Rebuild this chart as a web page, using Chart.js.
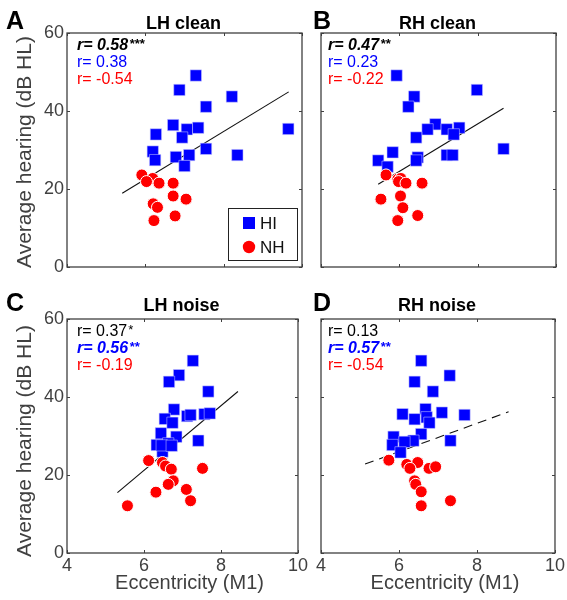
<!DOCTYPE html>
<html><head><meta charset="utf-8">
<script src="https://cdn.jsdelivr.net/npm/chart.js@4.4.0/dist/chart.umd.min.js"></script>
<style>
html,body{margin:0;padding:0;background:#fff;}
#wrap{position:relative;width:567px;height:600px;overflow:hidden;background:#fff;}
canvas{position:absolute;}
</style></head><body>
<div id="wrap">
<canvas id="cA" width="310" height="285" style="left:0;top:0"></canvas>
<canvas id="cB" width="257" height="285" style="left:310px;top:0"></canvas>
<canvas id="cC" width="310" height="315" style="left:0;top:285px"></canvas>
<canvas id="cD" width="257" height="315" style="left:310px;top:285px"></canvas>
</div>
<script>
// ---- data ----
const xTicks = [4, 6, 8, 10];
const yTicks = [0, 20, 40, 60];
const panelTitles = ['LH clean', 'RH clean', 'LH noise', 'RH noise'];
const panelLetters = ['A', 'B', 'C', 'D'];
const groupLabels = ['HI', 'NH'];
const xAxisLabel = 'Eccentricity (M1)';
const yAxisLabel = 'Average hearing (dB HL)';

const hiA_x = [7.29,6.87,8.21,7.55,6.71,6.27,7.06,7.35,6.94,9.65,6.19,6.25,6.78,7.12,7.55,7.00,8.35];
const hiA_y = [49.1,45.4,43.7,41.1,36.4,34.0,35.3,35.7,33.2,35.4,29.6,27.4,28.2,28.7,30.3,25.9,28.7];
const nhA_x = [5.91,6.19,6.03,6.35,6.71,6.71,7.04,6.20,6.31,6.76,6.22];
const nhA_y = [23.6,22.7,21.9,21.5,21.5,18.2,17.4,16.2,15.3,13.1,11.9];
const fitA_x = [5.41, 9.66];
const fitA_y = [18.9, 44.9];

const hiB_x = [5.93,7.98,6.38,6.23,6.92,6.72,7.21,7.53,7.39,6.43,8.66,5.83,5.46,5.70,6.47,6.43,7.21,7.36];
const hiB_y = [49.1,45.4,43.7,41.1,36.6,35.3,35.3,35.7,34.0,33.2,30.3,29.4,27.3,25.7,28.1,27.3,28.7,28.7];
const nhB_x = [5.66,5.96,6.04,5.98,6.17,6.58,5.53,6.03,6.09,6.47,5.96];
const nhB_y = [23.6,22.5,22.7,21.9,21.5,21.5,17.4,18.2,15.2,13.2,11.9];
const fitB_x = [5.46, 8.66];
const fitB_y = [21.2, 40.7];

const hiC_x = [7.27,6.91,6.65,7.67,6.78,6.54,6.74,7.12,7.21,7.57,7.71,6.44,6.84,6.33,6.63,6.48,7.41,6.46,6.72];
const hiC_y = [49.3,45.6,43.9,41.4,36.8,34.4,33.4,35.1,35.4,35.6,35.8,30.7,29.8,27.7,28.1,26.0,28.8,27.6,27.5];
const nhC_x = [6.12,6.48,6.56,6.71,7.52,6.76,6.63,7.10,6.31,7.21,5.57];
const nhC_y = [23.7,23.2,22.3,21.5,21.7,18.5,17.6,16.3,15.6,13.4,12.1];
const fitC_x = [5.31, 8.44];
const fitC_y = [15.5, 41.4];

const hiD_x = [6.57,7.30,6.40,6.87,6.68,6.09,6.40,7.10,7.68,6.71,6.78,6.57,5.86,6.37,6.14,5.83,7.32,6.04];
const hiD_y = [49.3,45.5,43.9,41.4,36.9,35.6,34.3,36.0,35.4,34.8,33.4,30.5,29.8,28.8,28.5,27.7,28.8,25.8];
const nhD_x = [5.74,6.20,6.48,6.28,6.77,6.94,6.40,6.43,6.57,6.57,7.32];
const nhD_y = [23.8,22.7,23.2,21.7,21.7,22.1,18.5,17.6,15.7,12.1,13.4];
const fitD_x = [5.13, 8.81];
const fitD_y = [22.8, 36.2];

// correlation labels: [text, stars, group(0=all,1=HI,2=NH), significant]
const rA = [['r= 0.58','***',0,true],['r= 0.38','',1,false],['r= -0.54','',2,false]];
const rB = [['r= 0.47','**',0,true],['r= 0.23','',1,false],['r= -0.22','',2,false]];
const rC = [['r= 0.37','*',0,false],['r= 0.56','**',1,true],['r= -0.19','',2,false]];
const rD = [['r= 0.13','',0,false],['r= 0.57','**',1,true],['r= -0.54','',2,false]];

// ---- style ----
const FONT = '"Liberation Sans", Arial, Helvetica, sans-serif';
const BLUE = '#0000ff', RED = '#ff0000', AXC = '#404040';
const rColors = ['#000000', BLUE, RED];

function pts(xs, ys) { return xs.map((x, i) => ({x: x, y: ys[i]})); }

function panelPlugin(p) {
  return {
    id: 'panelDeco',
    afterDraw(chart) {
      const ctx = chart.ctx, a = chart.chartArea;
      const xs = chart.scales.x, ys = chart.scales.y;
      ctx.save();
      // inner ticks
      ctx.strokeStyle = AXC; ctx.lineWidth = 1;
      ctx.beginPath();
      xTicks.forEach(v => {
        const px = Math.round(xs.getPixelForValue(v)) + 0.5;
        ctx.moveTo(px, a.bottom); ctx.lineTo(px, a.bottom - 3);
        ctx.moveTo(px, a.top); ctx.lineTo(px, a.top + 3);
      });
      yTicks.forEach(v => {
        const py = Math.round(ys.getPixelForValue(v)) + 0.5;
        ctx.moveTo(a.left, py); ctx.lineTo(a.left + 3, py);
        ctx.moveTo(a.right, py); ctx.lineTo(a.right - 3, py);
      });
      ctx.stroke();
      // frame
      ctx.lineWidth = 1.3;
      ctx.strokeRect(a.left, a.top, a.right - a.left, a.bottom - a.top);
      // title
      ctx.fillStyle = '#000';
      ctx.font = 'bold 18px ' + FONT;
      ctx.textAlign = 'center'; ctx.textBaseline = 'alphabetic';
      ctx.fillText(p.title, (a.left + a.right) / 2 - 1, p.titleY);
      // panel letter
      ctx.font = 'bold 25px ' + FONT;
      ctx.textAlign = 'left';
      ctx.fillText(p.letter, p.letterX, p.titleY);
      // r labels
      ctx.textBaseline = 'middle';
      p.r.forEach((r, i) => {
        const y = a.top + 13 + i * 17;
        const x = a.left + p.rdx;
        ctx.fillStyle = rColors[r[2]];
        ctx.font = (r[3] ? 'italic bold ' : '') + '16px ' + FONT;
        ctx.fillText(r[0], x, y);
        if (r[1]) {
          const w = ctx.measureText(r[0]).width;
          ctx.font = (r[3] ? 'italic bold ' : '') + '13px ' + FONT;
          ctx.fillText(r[1], x + w + 1, y - 2);
        }
      });
      // axis titles
      ctx.fillStyle = AXC;
      if (p.showY) {
        ctx.save();
        ctx.translate(25, p.yLabelY);
        ctx.rotate(-Math.PI / 2);
        ctx.font = '21px ' + FONT;
        ctx.textAlign = 'center'; ctx.textBaseline = 'middle';
        ctx.fillText(yAxisLabel, 0, 0);
        ctx.restore();
      }
      if (p.showX) {
        ctx.font = '20px ' + FONT;
        ctx.textAlign = 'center'; ctx.textBaseline = 'middle';
        ctx.fillText(xAxisLabel, (a.left + a.right) / 2 + 7, 298);
      }
      // legend
      if (p.legend) {
        const lx = a.left + 161, ly = a.top + 175;
        ctx.strokeStyle = '#222'; ctx.lineWidth = 1;
        ctx.fillStyle = '#fff';
        ctx.fillRect(lx, ly, 69, 52);
        ctx.strokeRect(lx + 0.5, ly + 0.5, 69, 52);
        ctx.fillStyle = BLUE;
        ctx.fillRect(lx + 15, ly + 9, 12, 12);
        ctx.fillStyle = RED;
        ctx.beginPath(); ctx.arc(lx + 21, ly + 39, 6.2, 0, Math.PI * 2); ctx.fill();
        ctx.fillStyle = '#111';
        ctx.font = '17px ' + FONT;
        ctx.textAlign = 'left'; ctx.textBaseline = 'middle';
        ctx.fillText(groupLabels[0], lx + 32, ly + 16);
        ctx.fillText(groupLabels[1], lx + 32, ly + 40);
      }
      ctx.restore();
    }
  };
}

function makePanel(id, p) {
  const cv = document.getElementById(id);
  return new Chart(cv, {
    type: 'scatter',
    data: {
      datasets: [
        {label: groupLabels[1], data: pts(p.nhx, p.nhy), pointStyle: 'circle', pointRadius: 6,
         backgroundColor: RED, borderColor: '#ffffff', borderWidth: 1, order: 1},
        {label: groupLabels[0], data: pts(p.hix, p.hiy), pointStyle: 'rect', pointRadius: 8,
         backgroundColor: BLUE, borderColor: 'rgba(200,200,255,0.9)', borderWidth: 0.6, order: 2},
        {type: 'line', label: 'fit', data: pts(p.fitx, p.fity), borderColor: '#111', borderWidth: 1.1,
         borderDash: p.dash, pointRadius: 0, showLine: true, fill: false, order: 3}
      ]
    },
    options: {
      responsive: false, animation: false, devicePixelRatio: 1, events: [],
      layout: {padding: {left: 0, right: p.padR, top: p.padT, bottom: 0}, autoPadding: false},
      plugins: {legend: {display: false}, tooltip: {enabled: false}, title: {display: false}},
      scales: {
        x: {
          type: 'linear', min: 4, max: 10,
          afterBuildTicks: s => { s.ticks = xTicks.map(v => ({value: v})); },
          grid: {display: false, drawTicks: false}, border: {display: false},
          ticks: {display: p.showX, padding: 2, color: AXC, font: {family: FONT, size: 18}},
          afterFit: s => { s.height = p.xH; }
        },
        y: {
          type: 'linear', min: 0, max: 60,
          afterBuildTicks: s => { s.ticks = yTicks.map(v => ({value: v})); },
          grid: {display: false, drawTicks: false}, border: {display: false},
          ticks: {display: p.showY, padding: 3, color: AXC, font: {family: FONT, size: 18}},
          afterFit: s => { s.width = p.yW; }
        }
      }
    },
    plugins: [panelPlugin(p)]
  });
}

makePanel('cA', {hix: hiA_x, hiy: hiA_y, nhx: nhA_x, nhy: nhA_y, fitx: fitA_x, fity: fitA_y, dash: [],
  r: rA, title: panelTitles[0], letter: panelLetters[0], letterX: 6, titleY: 28.5, rdx: 10,
  showX: false, showY: true, legend: true, padR: 8, padT: 33, xH: 18, yW: 67, yLabelY: 152});
makePanel('cB', {hix: hiB_x, hiy: hiB_y, nhx: nhB_x, nhy: nhB_y, fitx: fitB_x, fity: fitB_y, dash: [],
  r: rB, title: panelTitles[1], letter: panelLetters[1], letterX: 3, titleY: 28.5, rdx: 7,
  showX: false, showY: false, legend: false, padR: 11, padT: 33, xH: 18, yW: 11});
makePanel('cC', {hix: hiC_x, hiy: hiC_y, nhx: nhC_x, nhy: nhC_y, fitx: fitC_x, fity: fitC_y, dash: [],
  r: rC, title: panelTitles[2], letter: panelLetters[2], letterX: 6, titleY: 25.5, rdx: 10,
  showX: true, showY: true, legend: false, padR: 8, padT: 34, xH: 47, yW: 67, yLabelY: 156});
makePanel('cD', {hix: hiD_x, hiy: hiD_y, nhx: nhD_x, nhy: nhD_y, fitx: fitD_x, fity: fitD_y, dash: [9, 6],
  r: rD, title: panelTitles[3], letter: panelLetters[3], letterX: 3, titleY: 25.5, rdx: 7,
  showX: true, showY: false, legend: false, padR: 11, padT: 34, xH: 47, yW: 11});
</script>
</body></html>
